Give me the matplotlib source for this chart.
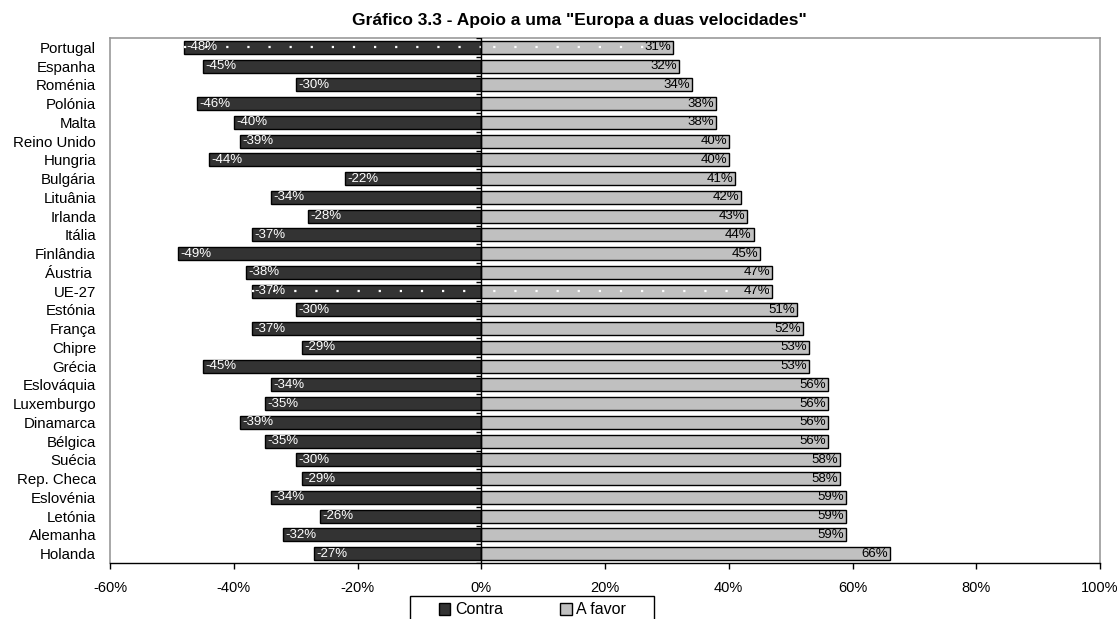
import matplotlib
matplotlib.use("Agg")
import matplotlib.pyplot as plt
from matplotlib.patches import Patch, Rectangle
import numpy as np

plt.rcParams['font.family'] = ['Liberation Sans', 'DejaVu Sans']

countries = ["Portugal", "Espanha", "Roménia", "Polónia", "Malta", "Reino Unido",
             "Hungria", "Bulgária", "Lituânia", "Irlanda", "Itália", "Finlândia",
             "Áustria ", "UE-27", "Estónia", "França", "Chipre", "Grécia",
             "Eslováquia", "Luxemburgo", "Dinamarca", "Bélgica", "Suécia",
             "Rep. Checa", "Eslovénia", "Letónia", "Alemanha", "Holanda"]
contra = [-48, -45, -30, -46, -40, -39, -44, -22, -34, -28, -37, -49, -38, -37,
          -30, -37, -29, -45, -34, -35, -39, -35, -30, -29, -34, -26, -32, -27]
a_favor = [31, 32, 34, 38, 38, 40, 40, 41, 42, 43, 44, 45, 47, 47,
           51, 52, 53, 53, 56, 56, 56, 56, 58, 58, 59, 59, 59, 66]
highlighted = ["Portugal", "UE-27"]
xticks = [-60, -40, -20, 0, 20, 40, 60, 80, 100]

dark = "#333333"
light = "#C0C0C0"

fig = plt.figure(figsize=(11.2, 6.19), dpi=100)
ax = fig.add_axes([110/1120, 1-563/619, (1100-110)/1120, (563-38)/619])

y = np.arange(len(countries))
h = 0.7
ax.barh(y, contra, height=h, color=dark, edgecolor="black", linewidth=1, zorder=2)
ax.barh(y, a_favor, height=h, color=light, edgecolor="black", linewidth=1, zorder=2)

# dotted pattern on highlighted bars
for i, c in enumerate(countries):
    if c in highlighted:
        ax.plot([contra[i], 0], [i, i], color="white", lw=1.6,
                linestyle=(0, (1, 8.5)), zorder=3)
        ax.plot([0, a_favor[i]], [i, i], color="white", lw=1.6,
                linestyle=(4, (1, 8.5)), zorder=3)

for i in range(len(countries)):
    ax.text(contra[i] + 0.4, i, f"{contra[i]}%", color="white", fontsize=9.5,
            va="center", ha="left", zorder=4)
    ax.text(a_favor[i] - 0.3, i, f"{a_favor[i]}%", color="black", fontsize=9.5,
            va="center", ha="right", zorder=4)

ax.set_xlim(-60, 100)
ax.set_ylim(len(countries) - 0.5, -0.5)
ax.set_xticks(xticks)
ax.set_xticklabels([f"{t}%" for t in xticks], fontsize=10.5)
ax.set_yticks(y)
ax.set_yticklabels(countries, fontsize=10.8)
ax.tick_params(axis="y", length=0, pad=10)
ax.tick_params(axis="x", length=4, width=1, direction="out", pad=9)

# zero axis with category ticks
ax.axvline(0, color="black", lw=1, zorder=5)
bounds = np.arange(len(countries) + 1) - 0.5
ax.hlines(bounds, -0.8, 0, color="black", lw=1, zorder=5)

for s in ["top", "right", "left"]:
    ax.spines[s].set_color("#999999")
    ax.spines[s].set_linewidth(1.2)
ax.spines["bottom"].set_color("black")
ax.spines["bottom"].set_linewidth(1)

fig.text(579/1120, 1-21/619, 'Gráfico 3.3 - Apoio a uma "Europa a duas velocidades"',
         ha="center", va="center", fontsize=12.5, fontweight="bold")

# legend box (frame drawn separately to match the wide Excel legend)
fig.patches.append(Rectangle((410/1120, 1-630/619), (654-410)/1120, (630-596)/619,
                             transform=fig.transFigure, facecolor="white",
                             edgecolor="black", linewidth=1, zorder=1))
handles = [Patch(facecolor=dark, edgecolor="black", label="Contra"),
           Patch(facecolor=light, edgecolor="black", label="A favor")]
leg = fig.legend(handles=handles, loc="center left", ncol=2,
                 bbox_to_anchor=(439/1120, 1-610/619), fontsize=11.5,
                 frameon=False, handlelength=0.7, handleheight=0.7,
                 handletextpad=0.3, columnspacing=3.6, borderpad=0,
                 borderaxespad=0)

fig.savefig("out.png", dpi=100)
